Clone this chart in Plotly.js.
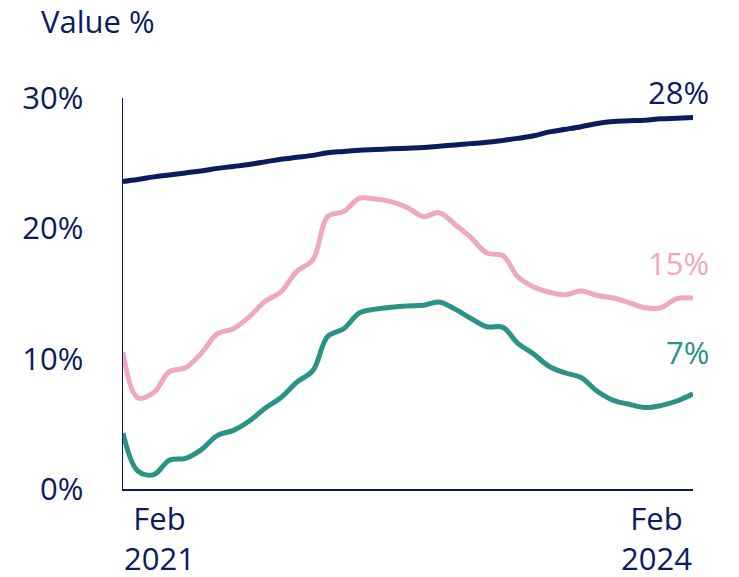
<!DOCTYPE html>
<html>
<head>
<meta charset="utf-8">
<script src="https://cdn.plot.ly/plotly-3.0.1.min.js"></script>
<style>
  html, body { margin: 0; padding: 0; background: #ffffff; }
  #chart { width: 739px; height: 577px; }
</style>
</head>
<body>
<div id="chart"></div>
<script>
// ---- Data ----
var months = [
  '2021-02-01','2021-03-01','2021-04-01','2021-05-01','2021-06-01','2021-07-01',
  '2021-08-01','2021-09-01','2021-10-01','2021-11-01','2021-12-01','2022-01-01',
  '2022-02-01','2022-03-01','2022-04-01','2022-05-01','2022-06-01','2022-07-01',
  '2022-08-01','2022-09-01','2022-10-01','2022-11-01','2022-12-01','2023-01-01',
  '2023-02-01','2023-03-01','2023-04-01','2023-05-01','2023-06-01','2023-07-01',
  '2023-08-01','2023-09-01','2023-10-01','2023-11-01','2023-12-01','2024-01-01',
  '2024-02-01'
];
var navyValues = [
  23.6, 23.75, 23.95, 24.1, 24.25, 24.4, 24.6, 24.75, 24.9, 25.1, 25.3, 25.45,
  25.6, 25.8, 25.9, 26.0, 26.05, 26.1, 26.15, 26.2, 26.3, 26.4, 26.5, 26.6,
  26.75, 26.9, 27.1, 27.4, 27.6, 27.8, 28.05, 28.2, 28.25, 28.3, 28.4, 28.45,
  28.5
];
var pinkValues = [
  10.5, 7.0, 7.4, 9.0, 9.3, 10.4, 11.9, 12.3, 13.2, 14.4, 15.1, 16.7,
  17.6, 20.9, 21.3, 22.3, 22.25, 22.05, 21.6, 20.9, 21.2, 20.3, 19.3, 18.1,
  17.9, 16.3, 15.5, 15.1, 14.9, 15.2, 14.85, 14.65, 14.3, 13.9, 13.9, 14.6,
  14.65
];
var tealValues = [
  4.3, 1.4, 1.1, 2.2, 2.35, 3.0, 4.1, 4.5, 5.2, 6.2, 7.0, 8.2,
  9.1, 11.7, 12.3, 13.5, 13.8, 13.95, 14.05, 14.1, 14.35, 13.8, 13.1, 12.45,
  12.4, 11.2, 10.35, 9.4, 8.9, 8.55, 7.5, 6.8, 6.5, 6.25, 6.4, 6.75,
  7.3
];
var endLabels = ['28%', '15%', '7%'];
var yTickVals = [0, 10, 20, 30];
var yTickText = ['0%', '10%', '20%', '30%'];
var xTickLabels = ['Feb<br>2021', 'Feb<br>2024'];

// ---- Styles ----
var NAVY = '#0b1c5e';
var PINK = '#f0a7c0';
var TEAL = '#2a9385';
var FONT = '"Open Sans", "Noto Sans", sans-serif';
var FS = 31;

var series = [
  { y: navyValues, color: NAVY, label: endLabels[0], yshift: 26 },
  { y: pinkValues, color: PINK, label: endLabels[1], yshift: 35 },
  { y: tealValues, color: TEAL, label: endLabels[2], yshift: 42 }
];

var traces = series.map(function (s) {
  return {
    x: months, y: s.y, type: 'scatter', mode: 'lines',
    line: { color: s.color, width: 5, shape: 'spline', smoothing: 1 },
    hoverinfo: 'skip', showlegend: false
  };
});

var lastX = months[months.length - 1];
var annotations = series.map(function (s) {
  return {
    x: lastX, y: s.y[s.y.length - 1], xref: 'x', yref: 'y',
    text: s.label, showarrow: false, xanchor: 'right', yanchor: 'middle',
    xshift: 17, yshift: s.yshift, borderpad: 0,
    font: { family: FONT, size: FS, color: s.color }
  };
});
annotations.push({
  x: months[0], y: 0, xref: 'x', yref: 'y', text: xTickLabels[0],
  showarrow: false, xanchor: 'left', yanchor: 'top', align: 'center',
  yshift: -7, borderpad: 0, font: { family: FONT, size: FS, color: NAVY }
});
annotations.push({
  x: lastX, y: 0, xref: 'x', yref: 'y', text: xTickLabels[1],
  showarrow: false, xanchor: 'right', yanchor: 'top', align: 'center',
  yshift: -7, borderpad: 0, font: { family: FONT, size: FS, color: NAVY }
});

var layout = {
  width: 739, height: 577,
  margin: { l: 123, r: 46, t: 98, b: 88, pad: 0 },
  paper_bgcolor: '#ffffff', plot_bgcolor: '#ffffff',
  font: { family: FONT, size: FS, color: NAVY },
  title: {
    text: 'Value %', x: 41 / 739, xanchor: 'left', xref: 'container',
    y: 1 - 22 / 577, yanchor: 'middle', yref: 'container',
    font: { family: FONT, size: FS, color: NAVY }
  },
  xaxis: {
    type: 'date', range: [months[0], lastX],
    showgrid: false, zeroline: false, showticklabels: false, ticks: '',
    showline: true, linecolor: NAVY, linewidth: 1.5
  },
  yaxis: {
    range: [0, 30], tickvals: yTickVals, ticktext: yTickText,
    showgrid: false, zeroline: false, ticks: '',
    ticklabelstandoff: 32,
    showline: true, linecolor: NAVY, linewidth: 1.5,
    tickfont: { family: FONT, size: FS, color: NAVY }
  },
  annotations: annotations,
  showlegend: false
};

Plotly.newPlot('chart', traces, layout, { displayModeBar: false, staticPlot: true });
</script>
</body>
</html>
